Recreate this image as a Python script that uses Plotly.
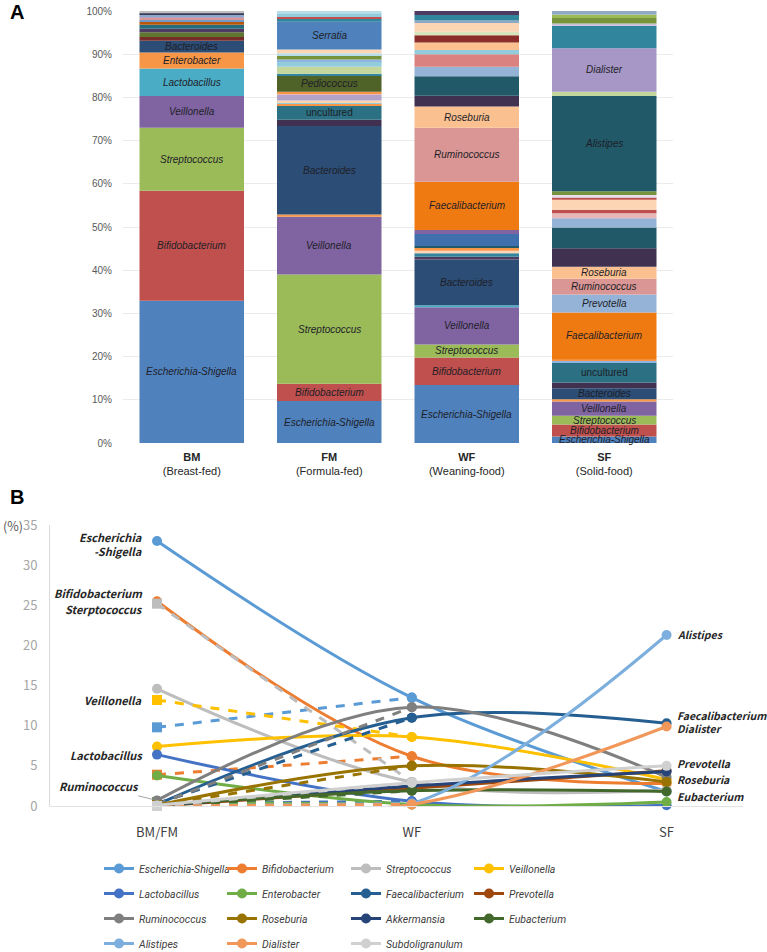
import itertools
import plotly.graph_objects as go

# ---------------- Panel A: stacked relative abundance (bottom -> top) ----------------
samples = ['BM', 'FM', 'WF', 'SF']
sample_ticks = ['<b>BM</b><br>(Breast-fed)', '<b>FM</b><br>(Formula-fed)',
                '<b>WF</b><br>(Weaning-food)', '<b>SF</b><br>(Solid-food)']
pct_ticks = list(range(0, 101, 10))

# '' = minor taxon without a label
bm_taxa = ['Escherichia-Shigella', 'Bifidobacterium', 'Streptococcus', 'Veillonella',
           'Lactobacillus', 'Enterobacter', 'Bacteroides'] + [''] * 11
bm_pct = [32.9, 25.5, 14.6, 7.3, 6.4, 3.7, 2.7, 0.9, 1.1, 0.8, 0.9, 0.7, 0.4, 0.5, 0.4, 0.4, 0.3, 0.5]
bm_colors = ['#4F81BD', '#C0504D', '#9BBB59', '#8064A2', '#4BACC6', '#F79646', '#2C4D75',
             '#772C2A', '#5F7530', '#4D3B62', '#276A7C', '#B65708', '#729ACA', '#D99694',
             '#B3A2C7', '#8EA9C8', '#3B3B5C', '#BFBFBF']

fm_taxa = ['Escherichia-Shigella', 'Bifidobacterium', 'Streptococcus', 'Veillonella', '',
           'Bacteroides', '', 'uncultured'] + [''] * 6 + ['Pediococcus'] + [''] * 7 + ['Serratia'] + [''] * 4
fm_pct = [9.7, 4.0, 25.3, 13.4, 0.5, 20.5, 1.4, 3.4, 0.4, 0.3, 0.4, 1.3, 0.4, 0.3, 3.8,
          0.4, 1.6, 1.3, 0.4, 1.0, 0.4, 0.9, 6.4, 0.7, 0.4, 0.9, 0.5]
fm_colors = ['#4F81BD', '#C0504D', '#9BBB59', '#8064A2', '#F79646', '#2C4D75', '#403151', '#2B7083',
             '#F79646', '#93CDDD', '#FCD5B5', '#B3A2C7', '#E6B9B8', '#F79646', '#4F6228',
             '#31859C', '#C3D69B', '#93CDDD', '#8EB4E3', '#77933C', '#B7DEE8', '#FCD5B5',
             '#4F81BD', '#31859C', '#C0504D', '#93CDDD', '#B7DEE8']

wf_taxa = ['Escherichia-Shigella', 'Bifidobacterium', 'Streptococcus', 'Veillonella', '',
           'Bacteroides'] + [''] * 7 + ['Faecalibacterium', 'Ruminococcus', 'Roseburia'] + [''] * 12
wf_pct = [13.4, 6.4, 3.0, 8.6, 0.5, 10.6, 0.6, 0.8, 0.6, 0.8, 0.3, 2.8, 0.9, 11.2, 12.5, 4.9,
          2.5, 4.5, 2.2, 2.9, 1.0, 1.7, 1.7, 0.8, 2.0, 0.6, 1.3, 0.9]
wf_colors = ['#4F81BD', '#C0504D', '#9BBB59', '#8064A2', '#4BACC6', '#2C4D75',
             '#4D3B62', '#31859C', '#FCD5B5', '#F79646', '#215968', '#3F70AD', '#8064A2',
             '#F07A12', '#D99694', '#FAC090',
             '#403151', '#215968', '#95B3D7', '#D9827F', '#93CDDD', '#FAC090', '#8B2E2B',
             '#D7E4BD', '#FCD5B5', '#8EA9C8', '#31859C', '#4D3B62']

sf_taxa = ['Escherichia-Shigella', 'Bifidobacterium', 'Streptococcus', 'Veillonella', '',
           'Bacteroides', '', 'uncultured', '', '', 'Faecalibacterium', 'Prevotella',
           'Ruminococcus', 'Roseburia'] + [''] * 9 + ['Alistipes', '', 'Dialister'] + [''] * 5
sf_pct = [1.5, 2.8, 2.0, 3.3, 0.5, 2.6, 1.3, 4.6, 0.4, 0.4, 10.8, 4.2, 3.6, 2.8,
          4.3, 4.8, 2.1, 1.2, 0.8, 2.3, 0.5, 0.6, 0.9, 22.0, 1.0, 10.1, 5.2, 0.5, 1.3, 0.8, 0.8]
sf_colors = ['#4F81BD', '#C0504D', '#9BBB59', '#8064A2', '#F79646', '#2C4D75', '#403151', '#2B7083',
             '#8EB4E3', '#F79646', '#F07A12', '#95B3D7', '#D99694', '#FAC090',
             '#403151', '#215968', '#95B3D7', '#E6B9B8', '#C0504D', '#FCD5B5', '#C0504D',
             '#E6E0EC', '#77933C', '#215968', '#C3D69B', '#A797C6', '#31859C', '#CCC1DA',
             '#77933C', '#9BBB59', '#8EA9C8']

# ---------------- Panel B: mean abundance (%) of key genera ----------------
species = ['Escherichia-Shigella', 'Bifidobacterium', 'Streptococcus', 'Veillonella',
           'Lactobacillus', 'Enterobacter', 'Faecalibacterium', 'Prevotella',
           'Ruminococcus', 'Roseburia', 'Akkermansia', 'Eubacterium',
           'Alistipes', 'Dialister', 'Subdoligranulum']
bm_vals = [33.0, 25.5, 14.6, 7.4, 6.4, 3.8, 0.2, 0.0, 0.7, 0.1, 0.0, 0.1, 0.0, 0.0, 0.1]
fm_vals = [9.8, 3.9, 25.2, 13.2, 0.3, 0.5, 0.3, 0.1, 0.2, 0.1, 0.0, 0.0, 0.0, 0.0, 0.0]
wf_vals = [13.5, 6.2, 3.0, 8.6, 0.6, 0.2, 11.0, 2.2, 12.3, 5.0, 2.5, 1.9, 0.3, 0.2, 2.9]
sf_vals = [1.8, 2.8, 2.0, 3.3, 0.1, 0.5, 10.3, 4.4, 3.6, 3.0, 4.3, 1.8, 21.3, 9.9, 5.0]
line_colors = ['#5B9BD5', '#ED7D31', '#BDBDBD', '#FFC000', '#4472C4', '#70AD47', '#255E91',
               '#9E480E', '#7F7F7F', '#997300', '#264478', '#43682B', '#7CAFDD', '#F1975A',
               '#D0D0D0']
stage_ticks = ['BM/FM', 'WF', 'SF']

W, H = 767, 952


def fx(px):
    return px / W


def fy(py):
    return 1 - py / H


fig = go.Figure()
annotations = []

bars = [(bm_taxa, bm_pct, bm_colors), (fm_taxa, fm_pct, fm_colors),
        (wf_taxa, wf_pct, wf_colors), (sf_taxa, sf_pct, sf_colors)]
for sample, (taxa, pct, colors) in zip(samples, bars):
    base = [0] + list(itertools.accumulate(pct))[:-1]
    fig.add_trace(go.Bar(x=[sample] * len(pct), y=pct, base=base, width=0.76,
                         marker=dict(color=colors, line=dict(width=0)),
                         showlegend=False, hoverinfo='skip', xaxis='x', yaxis='y'))
    for name, b, v in zip(taxa, base, pct):
        if name:
            annotations.append(dict(x=sample, y=b + v / 2, xref='x', yref='y', showarrow=False,
                                    text=name if name == 'uncultured' else '<i>%s</i>' % name,
                                    font=dict(family='Arial', size=10, color='#1E1E28')))

legend_names = ['legend', 'legend2', 'legend3', 'legend4']
for i, sp in enumerate(species):
    c = line_colors[i]
    lg = legend_names[i % 4]
    fig.add_trace(go.Scatter(x=[0, 1], y=[fm_vals[i], wf_vals[i]], mode='lines+markers',
                             line=dict(color=c, width=3, dash='dash'),
                             marker=dict(symbol=['square', 'circle'], size=10, color=c),
                             legendgroup=sp, showlegend=False, legend=lg, cliponaxis=False,
                             xaxis='x2', yaxis='y2'))
    fig.add_trace(go.Scatter(x=[0, 1, 2], y=[bm_vals[i], wf_vals[i], sf_vals[i]],
                             mode='lines+markers', name=sp,
                             line=dict(color=c, width=3, shape='spline'),
                             marker=dict(symbol='circle', size=10, color=c),
                             legendgroup=sp, legend=lg, cliponaxis=False,
                             xaxis='x2', yaxis='y2'))

kfont = 'Noto Sans CJK KR'
lab_font = dict(family=kfont, size=11, color='#262626')
left_labels = [('Escherichia<br>-Shigella', bm_vals[0], -3), ('Bifidobacterium', bm_vals[1], 8),
               ('Sterptococcus', fm_vals[2], -5), ('Veillonella', fm_vals[3], 0),
               ('Lactobacillus', bm_vals[4], 0)]
for txt, yv, ys in left_labels:
    annotations.append(dict(x=0, y=yv, xref='x2', yref='y2', xanchor='right', xshift=-12,
                            yshift=ys, showarrow=False, align='right',
                            text='<b><i>%s</i></b>' % txt, font=lab_font))
annotations.append(dict(x=0, y=bm_vals[8], xref='x2', yref='y2', ax=-58, ay=-14,
                        showarrow=True, arrowhead=0, arrowwidth=0.8, arrowcolor='#8C8C8C',
                        text='<b><i>Ruminococcus</i></b>', font=lab_font))
right_font = dict(family=kfont, size=10.5, color='#262626')
right_labels = [('Alistipes', sf_vals[12], 0), ('Faecalibacterium', sf_vals[6], 8),
                ('Dialister', sf_vals[13], -2), ('Prevotella', sf_vals[7], 7),
                ('Roseburia', sf_vals[9], 2), ('Eubacterium', sf_vals[11], -5)]
for txt, yv, ys in right_labels:
    annotations.append(dict(x=2, y=yv, xref='x2', yref='y2', xanchor='left', xshift=8,
                            yshift=ys, showarrow=False, text='<b><i>%s</i></b>' % txt,
                            font=right_font))

annotations += [
    dict(x=fx(8), y=fy(12), xref='paper', yref='paper', xanchor='left', yanchor='middle',
         text='<b>A</b>', showarrow=False, font=dict(family='Arial', size=20, color='black')),
    dict(x=fx(8), y=fy(497), xref='paper', yref='paper', xanchor='left', yanchor='middle',
         text='<b>B</b>', showarrow=False, font=dict(family='Arial', size=20, color='black')),
    dict(x=fx(1), y=fy(525), xref='paper', yref='paper', xanchor='left', yanchor='middle',
         text='(%)', showarrow=False, font=dict(family=kfont, size=12.5, color='#595959')),
]

legend_x = [99, 222, 346, 469]
legend_layout = {}
for name, lx in zip(legend_names, legend_x):
    legend_layout[name] = dict(x=fx(lx), y=fy(854), xanchor='left', yanchor='top',
                               orientation='v', tracegroupgap=6, itemwidth=30,
                               bgcolor='rgba(0,0,0,0)',
                               font=dict(family='Roboto', size=10.5, color='#404040',
                                         style='italic'))

fig.update_layout(
    width=W, height=H, margin=dict(l=0, r=0, t=0, b=0, autoexpand=False),
    paper_bgcolor='white', plot_bgcolor='white', barmode='overlay',
    xaxis=dict(domain=[fx(123), fx(673)], type='category', categoryorder='array',
               categoryarray=samples, tickvals=samples, ticktext=sample_ticks,
               tickfont=dict(family='Arial', size=11, color='#262626'), automargin=False,
               showgrid=False, showline=False, zeroline=False, ticklabelstandoff=6),
    yaxis=dict(domain=[fy(443), fy(11)], range=[0, 100],
               tickvals=pct_ticks, ticktext=['%d%%' % t for t in pct_ticks],
               tickfont=dict(family='Arial', size=10, color='#595959'), automargin=False,
               showgrid=True, gridcolor='#EBEBEB', zeroline=False, ticklabelstandoff=10),
    xaxis2=dict(domain=[fx(50), fx(743)], range=[-0.42, 2.3], tickvals=[0, 1, 2],
                ticktext=stage_ticks, tickfont=dict(family=kfont, size=13, color='#404040'),
                showgrid=False, zeroline=False, showline=True, linecolor='#E3E3E3',
                ticklabelstandoff=14, anchor='y2', automargin=False),
    yaxis2=dict(domain=[fy(806), fy(525)], range=[0, 35],
                tickvals=list(range(0, 36, 5)),
                tickfont=dict(family=kfont, size=13, color='#A6A6A6'),
                showgrid=False, zeroline=False, showline=True, linecolor='#D9D9D9',
                ticklabelstandoff=9, anchor='x2', automargin=False),
    annotations=annotations,
    **legend_layout,
)

# drop the browser's default 8px page margin so the figure fills the window
fig.write_html("out.html", config={'displayModeBar': False},
               post_script="document.body.style.margin = '0';")
